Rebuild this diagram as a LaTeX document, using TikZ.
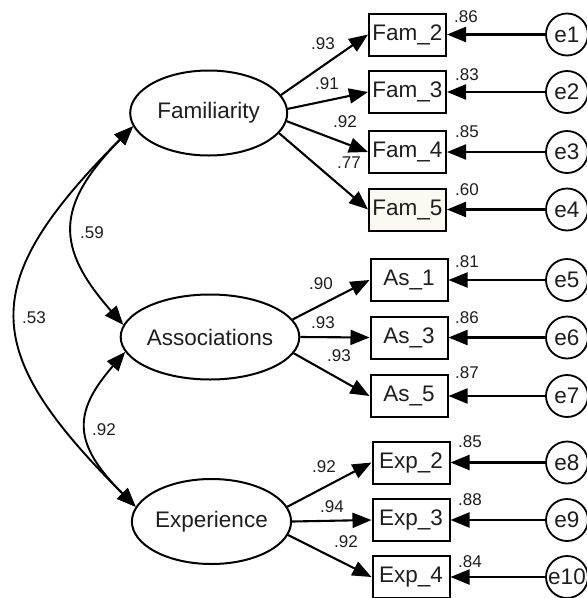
\documentclass[tikz,border=0pt]{standalone}
\usepackage{fontspec}
\setmainfont{Liberation Sans}
\usetikzlibrary{arrows.meta,shapes.geometric}
\definecolor{ink}{RGB}{30,30,30}
\definecolor{beige}{RGB}{252,249,243}
\tikzset{
  latent/.style={draw=black,ellipse,line width=2pt,minimum width=157pt,minimum height=85pt,inner sep=0pt,text=ink,font=\fontsize{22.5}{26}\selectfont},
  obs/.style={draw=black,rectangle,line width=2pt,minimum width=77pt,minimum height=42pt,inner sep=0pt,text=ink,font=\fontsize{22.5}{26}\selectfont},
  err/.style={draw=black,circle,line width=1.8pt,minimum size=42pt,inner sep=0pt,text=ink,font=\fontsize{22.5}{26}\selectfont},
  lbl/.style={inner sep=0pt,text=ink,font=\fontsize{17}{20}\selectfont},
  path/.style={line width=2.1pt,-{Triangle[length=19pt,width=15pt]}},
  cov/.style={line width=1.9pt,{Triangle[length=19pt,width=15pt]}-{Triangle[length=19pt,width=15pt]}}
}
\begin{document}
\begin{tikzpicture}[x=1pt,y=-1pt]
\useasboundingbox (0,0) rectangle (587,598);
% latent variables
\node[latent] (F) at (208.7,113) {Familiarity};
\node[latent] (A) at (210,337) {Associations};
\node[latent] (X) at (211.5,521.5) {Experience};
% observed
\node[obs] (b1) at (407.5,34.5) {Fam\_2};
\node[obs] (b2) at (407.5,92) {Fam\_3};
\node[obs] (b3) at (407.5,152) {Fam\_4};
\node[obs,fill=beige] (b4) at (407.5,209.5) {Fam\_5};
\node[obs] (b5) at (409,280) {As\_1};
\node[obs] (b6) at (409,337.5) {As\_3};
\node[obs] (b7) at (409,396) {As\_5};
\node[obs] (b8) at (411,462.5) {Exp\_2};
\node[obs] (b9) at (411,520) {Exp\_3};
\node[obs] (b10) at (411,577) {Exp\_4};
% errors
\foreach \i/\y in {1/34.5,2/92,3/152,4/209.5,5/280,6/337.5,7/396,8/462.5,9/520,10/577}{
  \node[err] (e\i) at (567,\y) {e\i};
  \draw[path] (e\i) -- (b\i);
}
% loadings
\draw[path] (F.14) -- (b1.west);
\draw[path] (F.3) -- (b2.west);
\draw[path] (F.-6) -- (b3.west);
\draw[path] (F.-16) -- (b4.west);
\draw[path] (A.12) -- (b5.west);
\draw[path] (A.0) -- (b6.west);
\draw[path] (A.-11) -- (b7.west);
\draw[path] (X.11) -- (b8.west);
\draw[path] (X.0) -- (b9.west);
\draw[path] (X.-10) -- (b10.west);
% covariances
\draw[cov] (F.190) .. controls (55,206) and (55,247) .. (A.172);
\draw[cov] (A.190) .. controls (72,413) and (73,444) .. (X.169);
\draw[cov] (F.190) .. controls (-24,284) and (-21,350) .. (X.169);
% loading labels
\node[lbl] (l1) at (323,44) {.93};
\node[lbl] (l2) at (327,84) {.91};
\node[lbl] (l3) at (345,122) {.92};
\node[lbl] (l4) at (349,163) {.77};
\node[lbl] (l5) at (321,284) {.90};
\node[lbl] (l6) at (323,323) {.93};
\node[lbl] (l7) at (339,356) {.93};
\node[lbl] (l8) at (324,467) {.92};
\node[lbl] (l9) at (332,507) {.94};
\node[lbl] (l10) at (346,542) {.92};
% R2 labels
\node[lbl] (r1) at (466,17) {.86};
\node[lbl] (r2) at (467,75) {.83};
\node[lbl] (r3) at (467,132) {.85};
\node[lbl] (r4) at (467,190) {.60};
\node[lbl] (r5) at (467,262) {.81};
\node[lbl] (r6) at (467,318) {.86};
\node[lbl] (r7) at (467,373) {.87};
\node[lbl] (r8) at (470,442) {.85};
\node[lbl] (r9) at (470,500) {.88};
\node[lbl] (r10) at (470,562) {.84};
% covariance labels
\node[lbl] (c1) at (92,233) {.59};
\node[lbl] (c2) at (34,318) {.53};
\node[lbl] (c3) at (104,430) {.92};
\end{tikzpicture}
\end{document}
